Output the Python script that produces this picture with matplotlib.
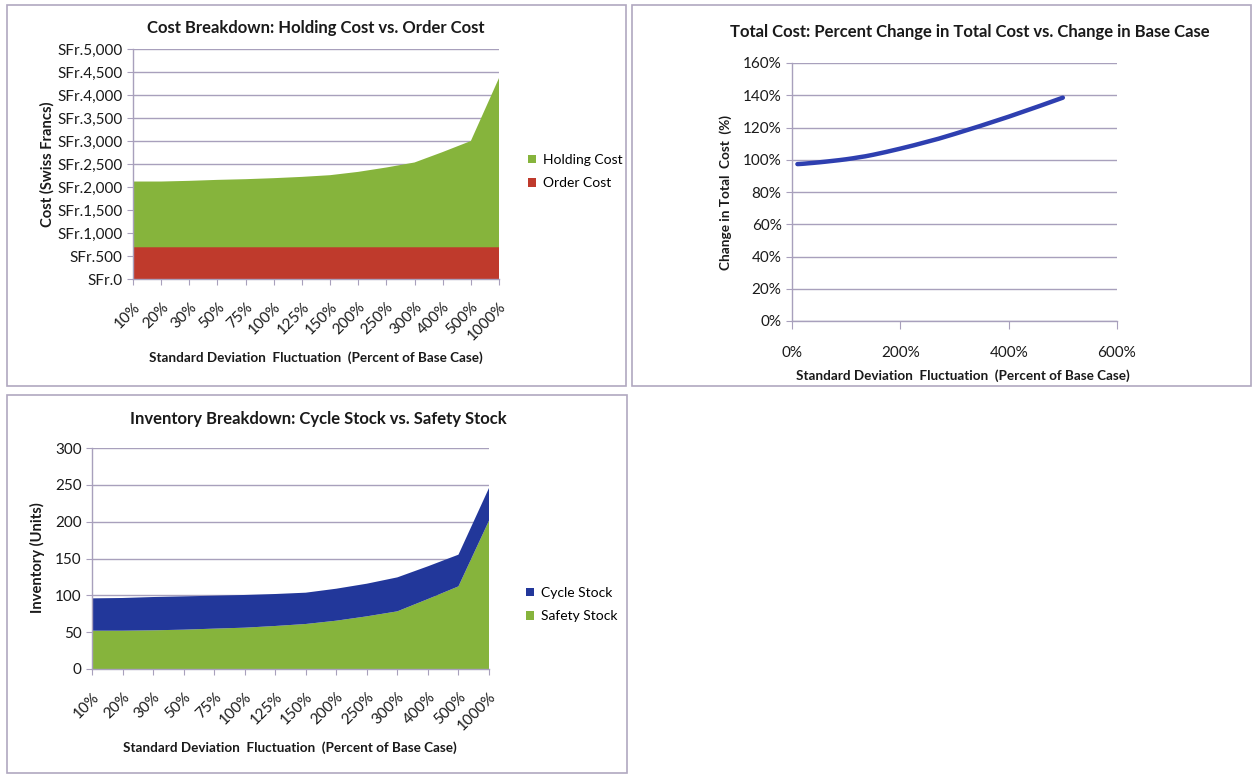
import matplotlib
matplotlib.use("Agg")
import matplotlib.pyplot as plt
import numpy as np
from matplotlib.patches import Rectangle, PathPatch
from matplotlib.path import Path
from matplotlib.ticker import FuncFormatter

plt.rcParams["font.family"] = ["Lato", "DejaVu Sans"]

W, H = 1253, 776

# shared categories (std dev as percent of base case)
categories = ["10%", "20%", "30%", "50%", "75%", "100%", "125%", "150%",
              "200%", "250%", "300%", "400%", "500%", "1000%"]

# cost breakdown, Swiss francs
order_cost = [690, 690, 690, 690, 690, 690, 690, 690, 690, 690, 690, 690, 690, 690]
holding_cost = [1429, 1429, 1444, 1465, 1480, 1502, 1530, 1567, 1639, 1734,
                1843, 2070, 2310, 3679]

# total cost relative to base case
std_pct = [10, 20, 30, 50, 75, 100, 125, 150, 200, 250, 300, 400, 500]
total_pct = [97.3, 97.5, 97.8, 98.4, 99.3, 100.3, 101.6, 103.1, 106.9, 111.2,
             116.0, 126.7, 138.5]

# inventory breakdown, units
safety_stock = [52, 52, 52.5, 53.4, 54.8, 56.1, 58.4, 61.1, 65.6, 71.5,
                78.3, 95, 112.2, 201.4]
cycle_stock = [43.9, 44.4, 45.2, 45.2, 44.7, 44.4, 43.4, 42.5, 43.4, 44.3,
               46.1, 44.4, 43.0, 44.3]

GREEN = "#86b43c"
RED = "#bf3a2c"
NAVY = "#22379a"
LINE = "#2e3fb0"
GRID = "#a8a0bc"
BORDER = "#b0a8c0"
TXT = "#1a1a1a"

fig = plt.figure(figsize=(W / 100, H / 100), dpi=100)


def px_axes(left, top, right, bottom):
    return fig.add_axes([left / W, 1 - bottom / H, (right - left) / W, (bottom - top) / H])


def panel(x0, y0, x1, y1):
    fig.patches.append(Rectangle((x0 / W, 1 - y1 / H), (x1 - x0) / W, (y1 - y0) / H,
                                 transform=fig.transFigure, fill=False,
                                 edgecolor=BORDER, lw=1.2))


def style(ax):
    for s in ("top", "right"):
        ax.spines[s].set_visible(False)
    for s in ("left", "bottom"):
        ax.spines[s].set_color(GRID)
        ax.spines[s].set_linewidth(1.0)
    ax.grid(axis="y", color=GRID, lw=1.0)
    ax.set_axisbelow(True)
    ax.tick_params(axis="both", direction="out", length=4, color=GRID,
                   labelsize=11, labelcolor=TXT)


def ftext(x, y, s, **kw):
    fig.text(x / W, 1 - y / H, s, color=TXT, **kw)


def smooth_path(xs, ys):
    # cardinal-spline style smoothing drawn as cubic bezier segments
    pts = np.column_stack([xs, ys]).astype(float)
    verts = [pts[0]]
    codes = [Path.MOVETO]
    n = len(pts)
    for i in range(n - 1):
        p0 = pts[max(i - 1, 0)]
        p1 = pts[i]
        p2 = pts[i + 1]
        p3 = pts[min(i + 2, n - 1)]
        verts += [p1 + (p2 - p0) / 6, p2 - (p3 - p1) / 6, p2]
        codes += [Path.CURVE4] * 3
    return Path(verts, codes)


panel(7, 5, 626, 386)
panel(632, 5, 1251, 386)
panel(7, 395, 627, 773)

legend_kw = dict(loc="center left", bbox_transform=fig.transFigure, frameon=False,
                 fontsize=10, handlelength=0.6, handleheight=0.6, handletextpad=0.45,
                 labelspacing=0.8, borderpad=0, borderaxespad=0)

# cost breakdown (stacked area)
ax1 = px_axes(133, 49, 499, 279)
x = np.arange(len(categories))
polys = ax1.stackplot(x, order_cost, holding_cost, colors=[RED, GREEN], lw=0)
ax1.set_xlim(0, len(categories) - 1)
ax1.set_ylim(0, 5000)
ax1.set_yticks(np.arange(0, 5001, 500))
ax1.yaxis.set_major_formatter(FuncFormatter(lambda v, p: "SFr.{:,.0f}".format(v)))
ax1.set_xticks(x)
ax1.set_xticklabels(categories, rotation=45, ha="right", rotation_mode="anchor")
style(ax1)
ax1.tick_params(axis="x", pad=11)
ax1.legend([polys[1], polys[0]], ["Holding Cost", "Order Cost"],
           bbox_to_anchor=(528 / W, 1 - 171.5 / H), **legend_kw)
ftext(316, 28, "Cost Breakdown: Holding Cost vs. Order Cost", fontsize=12,
      fontweight="bold", ha="center", va="center")
ftext(316, 358, "Standard Deviation  Fluctuation  (Percent of Base Case)", fontsize=9.7,
      fontweight="bold", ha="center", va="center")
ftext(47, 164, "Cost (Swiss Francs)", fontsize=10.6, fontweight="bold", rotation=90,
      ha="center", va="center")

# total cost vs. std dev
ax2 = px_axes(792, 63, 1117, 321)
ax2.add_patch(PathPatch(smooth_path(std_pct, total_pct), fill=False, edgecolor=LINE,
                        lw=3.2, capstyle="round"))
ax2.set_xlim(0, 600)
ax2.set_ylim(0, 160)
ax2.set_xticks([0, 200, 400, 600])
ax2.set_yticks(np.arange(0, 161, 20))
ax2.xaxis.set_major_formatter(FuncFormatter(lambda v, p: "{:.0f}%".format(v)))
ax2.yaxis.set_major_formatter(FuncFormatter(lambda v, p: "{:.0f}%".format(v)))
style(ax2)
ax2.tick_params(axis="x", length=6, pad=12)
ftext(970, 32, "Total Cost: Percent Change in Total Cost vs. Change in Base Case",
      fontsize=12, fontweight="bold", ha="center", va="center")
ftext(963, 376, "Standard Deviation  Fluctuation  (Percent of Base Case)", fontsize=9.7,
      fontweight="bold", ha="center", va="center")
ftext(726, 193, "Change in Total  Cost  (%)", fontsize=9.8, fontweight="bold",
      rotation=90, ha="center", va="center")

# inventory breakdown (stacked area)
ax3 = px_axes(92, 448, 489, 669)
polys3 = ax3.stackplot(x, safety_stock, cycle_stock, colors=[GREEN, NAVY], lw=0)
ax3.set_xlim(0, len(categories) - 1)
ax3.set_ylim(0, 300)
ax3.set_yticks(np.arange(0, 301, 50))
ax3.set_xticks(x)
ax3.set_xticklabels(categories, rotation=45, ha="right", rotation_mode="anchor")
style(ax3)
ax3.tick_params(axis="x", pad=11)
ax3.legend([polys3[1], polys3[0]], ["Cycle Stock", "Safety Stock"],
           bbox_to_anchor=(526 / W, 1 - 604.5 / H), **legend_kw)
ftext(318, 419, "Inventory Breakdown: Cycle Stock vs. Safety Stock", fontsize=12,
      fontweight="bold", ha="center", va="center")
ftext(290, 748, "Standard Deviation  Fluctuation  (Percent of Base Case)", fontsize=9.7,
      fontweight="bold", ha="center", va="center")
ftext(37, 558, "Inventory (Units)", fontsize=10.6, fontweight="bold", rotation=90,
      ha="center", va="center")

fig.savefig("out.png", dpi=100, facecolor="white")
